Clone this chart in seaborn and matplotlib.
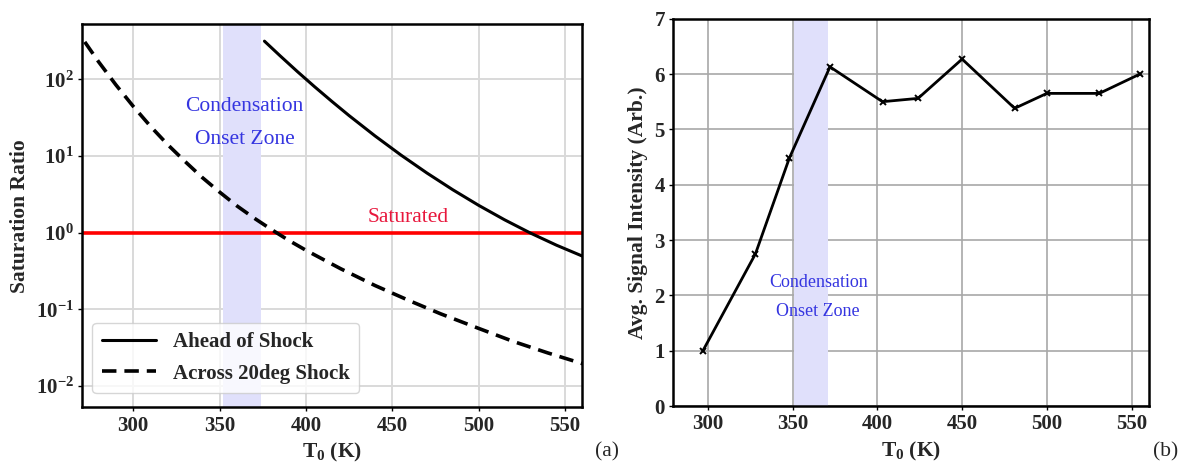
import numpy as np
import pandas as pd
import matplotlib
matplotlib.use("Agg")
import matplotlib.pyplot as plt
from matplotlib.ticker import FixedLocator, FuncFormatter
import seaborn as sns

# ---- (a) saturation ratio vs. stagnation temperature ----
t_ahead = [376, 385, 395, 405, 415, 425, 440, 455, 470, 485, 500, 515, 530, 545, 560]
s_ahead = [316, 204, 127, 80.4, 51.7, 33.7, 18.3, 10.3, 6.01, 3.63, 2.27, 1.47, 0.986, 0.686, 0.494]

t_across = [272, 280, 290, 300, 310, 320, 330, 340, 350, 360, 370, 380, 390, 400,
            420, 440, 460, 478, 500, 520, 540, 560]
s_across = [309, 170, 85.1, 44.7, 24.5, 14.1, 8.51, 5.25, 3.39, 2.24, 1.55, 1.10, 0.794, 0.589,
            0.339, 0.204, 0.129, 0.0871, 0.0562, 0.0380, 0.0269, 0.0195]

saturated_level = 1.0
zone_a = (352, 374)

# ---- (b) average signal intensity ----
t_signal = [297, 328, 348, 372, 403, 424, 450, 481, 500, 531, 555]
signal = [1.0, 2.75, 4.48, 6.13, 5.50, 5.56, 6.27, 5.38, 5.65, 5.65, 6.00]
zone_b = (351, 371)

sns.set_style("whitegrid")
plt.rcParams["font.family"] = ["Liberation Serif", "DejaVu Serif"]
plt.rcParams["font.weight"] = "bold"
plt.rcParams["mathtext.fontset"] = "custom"
plt.rcParams["mathtext.rm"] = "Liberation Serif:bold"
plt.rcParams["mathtext.bf"] = "Liberation Serif:bold"
plt.rcParams["mathtext.it"] = "Liberation Serif:italic:bold"

W, H = 1182, 463
fig = plt.figure(figsize=(W / 100, H / 100), dpi=100)
ax1 = fig.add_axes([82 / W, 1 - 407.3 / H, 500.4 / W, 383 / H])
ax2 = fig.add_axes([673.3 / W, 1 - 406 / H, 476 / W, 387.3 / H])

df_ahead = pd.DataFrame({"T0": t_ahead, "S": s_ahead})
df_across = pd.DataFrame({"T0": t_across, "S": s_across})
df_sig = pd.DataFrame({"T0": t_signal, "I": signal})

blue_txt = "#3535e0"
shade = "#e0e0fb"
tick_fs = 15
label_fs = 15.5

# ---------- panel (a) ----------
ax1.set_yscale("log")
ax1.axvspan(*zone_a, color=shade, lw=0, zorder=1)
sns.lineplot(data=df_ahead, x="T0", y="S", ax=ax1, color="black", lw=2.2,
             label="Ahead of Shock", zorder=3)
sns.lineplot(data=df_across, x="T0", y="S", ax=ax1, color="black", lw=2.6,
             ls=(0, (4, 2.2)), label="Across 20deg Shock", zorder=3)
ax1.axhline(saturated_level, color="#ff0000", lw=2.6, zorder=2)
ax1.text(459, 10 ** 0.2, "Saturated", color="#e8173c", fontsize=15.5,
         fontweight="normal", ha="center", va="center", zorder=4)
ax1.text(364.5, 10 ** 1.43, "Condensation\nOnset Zone", color=blue_txt, fontsize=15.5,
         fontweight="normal", ha="center", va="center", linespacing=2.0, zorder=4)

ax1.set_xlim(270.4, 560)
ax1.set_ylim(10 ** -2.28, 10 ** 2.72)
ax1.xaxis.set_major_locator(FixedLocator([300, 350, 400, 450, 500, 550]))
ax1.yaxis.set_major_locator(FixedLocator([1e-2, 1e-1, 1e0, 1e1, 1e2]))
ax1.yaxis.set_minor_locator(FixedLocator([]))
ax1.yaxis.set_major_formatter(FuncFormatter(lambda v, p: r"$\mathbf{10^{%d}}$" % round(np.log10(v))))
ax1.set_xlabel(r"$\mathbf{T_0}$ (K)", fontsize=label_fs, fontweight="bold", labelpad=4)
ax1.set_ylabel("Saturation Ratio", fontsize=label_fs, fontweight="bold", labelpad=4)
ax1.grid(True, color="#d9d9d9", lw=1.4)
leg = ax1.legend(loc="lower left", bbox_to_anchor=(0.0, 0.01), fontsize=15,
                 frameon=True, framealpha=0.8, edgecolor="#cccccc", fancybox=True,
                 handlelength=2.6, borderpad=0.45, labelspacing=0.55)
for t in leg.get_texts():
    t.set_fontweight("bold")

# ---------- panel (b) ----------
ax2.axvspan(*zone_b, color=shade, lw=0, zorder=1)
sns.lineplot(data=df_sig, x="T0", y="I", ax=ax2, color="black", lw=2.0,
             marker="x", markersize=5, markeredgewidth=1.4, markeredgecolor="black", zorder=3)
ax2.text(365, 1.97, "Condensation\nOnset Zone", color=blue_txt, fontsize=13,
         fontweight="normal", ha="center", va="center", linespacing=1.9, zorder=4)
ax2.set_xlim(279.5, 560.5)
ax2.set_ylim(0, 7)
ax2.xaxis.set_major_locator(FixedLocator([300, 350, 400, 450, 500, 550]))
ax2.yaxis.set_major_locator(FixedLocator(range(0, 8)))
ax2.set_xlabel(r"$\mathbf{T_0}$ (K)", fontsize=label_fs, fontweight="bold", labelpad=4)
ax2.set_ylabel("Avg. Signal Intensity (Arb.)", fontsize=label_fs, fontweight="bold", labelpad=5)
ax2.grid(True, color="#a8a8a8", lw=1.2)

for ax in (ax1, ax2):
    ax.set_axisbelow(True)
    for sp in ax.spines.values():
        sp.set_visible(True)
        sp.set_color("black")
        sp.set_linewidth(1.8)
    ax.tick_params(axis="both", which="major", labelsize=tick_fs, length=3, width=1,
                   color="black", pad=3, left=True, bottom=True)
    for lab in ax.get_xticklabels() + ax.get_yticklabels():
        lab.set_fontweight("bold")

fig.text(607 / W, 1 - 452 / H, "(a)", fontsize=15.5, fontweight="normal", ha="center", va="center")
fig.text(1166 / W, 1 - 452 / H, "(b)", fontsize=15.5, fontweight="normal", ha="center", va="center")

fig.savefig("out.png", dpi=100, facecolor="white")
